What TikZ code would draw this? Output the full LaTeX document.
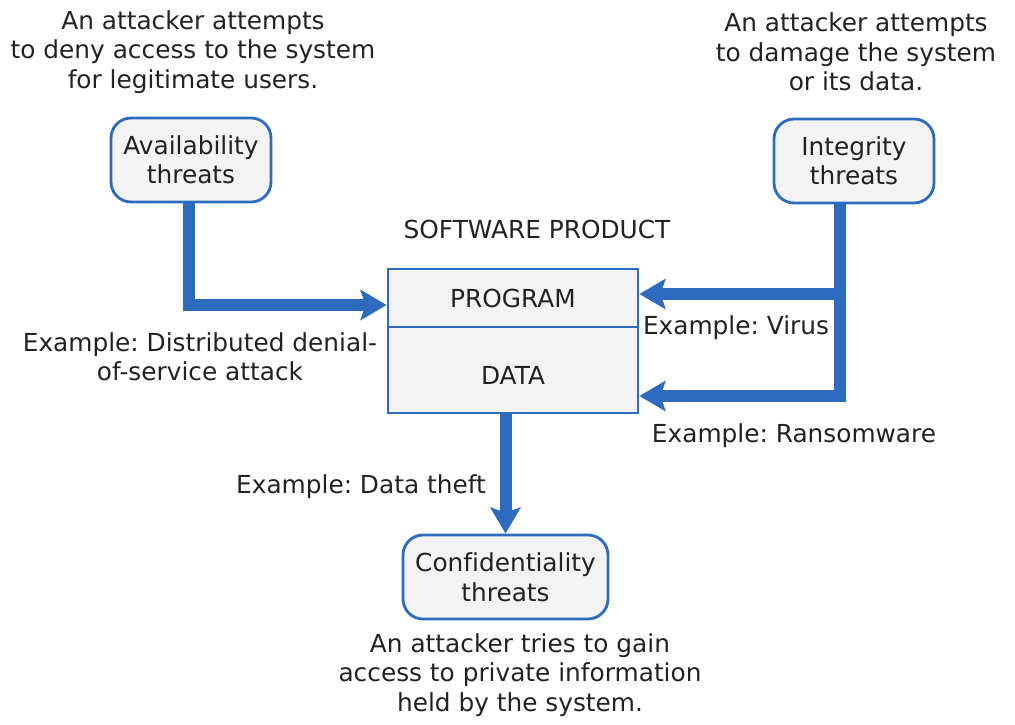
\documentclass[tikz,border=0pt]{standalone}
\usepackage{fontspec}
\setmainfont[Ligatures={NoCommon}]{DejaVu Sans}
\usetikzlibrary{arrows.meta}
\definecolor{lineblue}{HTML}{2D6BBF}
\definecolor{boxfill}{HTML}{F3F3F3}
\definecolor{txt}{HTML}{222222}
\frenchspacing
\begin{document}
\frenchspacing
\begin{tikzpicture}[x=1pt,y=-1pt,
  every node/.style={font=\fontsize{24.8}{29.5}\selectfont\frenchspacing, text=txt, inner sep=0pt},
  threat/.style={draw=lineblue, line width=2.8pt, fill=boxfill, rounded corners=20pt, align=center, minimum width=160pt, minimum height=84pt},
  part/.style={draw=lineblue, line width=2.8pt, fill=boxfill, minimum width=250pt},
  desc/.style={align=center},
  flow/.style={draw=lineblue, line width=12pt, -{Stealth[length=26pt,width=30pt,inset=5pt]}},
]
\useasboundingbox (0,0) rectangle (1015,725);

\node[threat] (avail) at (191,160) {Availability\\threats};
\node[threat] (integ) at (854,161) {Integrity\\threats};
\node[threat, minimum width=205pt] (conf) at (505.5,577) {Confidentiality\\threats};
\node[part, minimum height=58pt] (prog) at (513,298) {PROGRAM};
\node[part, minimum height=86pt, text height=28pt, text depth=0pt] (data) at (513,370) {DATA};

\node[desc] (tavail) at (193,52) {An attacker attempts\\to deny access to the system\\for legitimate users.};
\node[desc] (tinteg) at (856,52) {An attacker attempts\\to damage the system\\or its data.};
\node[desc] (tconf) at (520,675) {An attacker tries to gain\\access to private information\\held by the system.};
\node[desc] (tsw) at (537,229) {SOFTWARE PRODUCT};
\node[desc] (tddos) at (200,357) {Example: Distributed denial-\\of-service attack};
\node[desc] (tvirus) at (736,328) {Example: Virus};
\node[desc] (transom) at (794,436) {Example: Ransomware};
\node[desc, anchor=east] (ttheft) at (486,487) {Example: Data theft};

\coordinate (aj) at (188.5,305);
\coordinate (vj) at (840,294);
\coordinate (rj) at (840,396);
\draw[flow] (avail.south -| aj) -- (aj) -- (aj -| prog.west);
\draw[flow] (integ.south -| vj) -- (rj) -- (rj -| data.east);
\draw[flow] (vj) -- (vj -| prog.east);
\draw[flow] (conf.north |- data.south) -- (conf.north);
\end{tikzpicture}
\end{document}
